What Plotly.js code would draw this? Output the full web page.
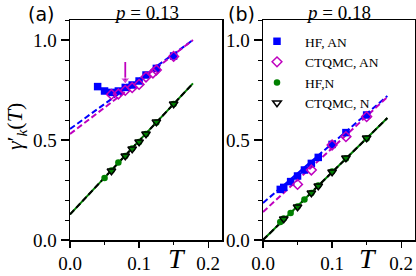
<!DOCTYPE html>
<html><head><meta charset="utf-8">
<script src="https://cdn.plot.ly/plotly-3.0.1.min.js"></script>
<style>html,body{margin:0;padding:0;background:#fff}</style>
</head><body><div id="chart" style="width:416px;height:276px"></div>
<script>
// Panel (a): p = 0.13
const Ta_hfAN = [0.04, 0.05, 0.06, 0.07, 0.08, 0.09, 0.10, 0.11, 0.125, 0.15];
const Ga_hfAN = [0.767, 0.745, 0.738, 0.745, 0.763, 0.775, 0.795, 0.825, 0.858, 0.92];
const Ta_ctAN = [0.06, 0.07, 0.08, 0.09, 0.10, 0.11, 0.12, 0.125, 0.15];
const Ga_ctAN = [0.728, 0.730, 0.748, 0.762, 0.778, 0.815, 0.835, 0.85, 0.918];
const Ta_hfN = [0.05, 0.06, 0.07, 0.08, 0.09, 0.10, 0.11, 0.125, 0.15];
const Ga_hfN = [0.31, 0.347, 0.388, 0.42, 0.458, 0.49, 0.53, 0.587, 0.68];
const Ta_ctN = [0.06, 0.08, 0.09, 0.10, 0.11, 0.125, 0.15];
const Ga_ctN = [0.345, 0.42, 0.455, 0.49, 0.53, 0.59, 0.68];
const Ta_fit = [0, 0.178];
const Ga_fitHfAN = [0.555, 1.0];
const Ga_fitCtAN = [0.53, 1.0];
const Ga_fitN = [0.128, 0.783];
const arrowT = [0.08, 0.08];
const arrowG = [0.89, 0.80];

// Panel (b): p = 0.18
const Tb_hfAN = [0.025, 0.03, 0.04, 0.05, 0.06, 0.07, 0.08, 0.10, 0.12, 0.15];
const Gb_hfAN = [0.253, 0.263, 0.292, 0.32, 0.35, 0.383, 0.413, 0.478, 0.537, 0.625];
const Tb_ctAN = [0.05, 0.07, 0.10, 0.12, 0.15];
const Gb_ctAN = [0.278, 0.35, 0.475, 0.517, 0.617];
const Tb_hfN = [0.025, 0.03, 0.04, 0.05, 0.06, 0.07, 0.08, 0.10, 0.12, 0.15];
const Gb_hfN = [0.09, 0.107, 0.135, 0.167, 0.203, 0.235, 0.272, 0.342, 0.408, 0.508];
const Tb_ctN = [0.03, 0.05, 0.07, 0.08, 0.10, 0.12, 0.15];
const Gb_ctN = [0.105, 0.165, 0.235, 0.27, 0.34, 0.41, 0.51];
const Tb_fit = [0, 0.18];
const Gb_fitHfAN = [0.185, 0.72];
const Gb_fitCtAN = [0.14, 0.715];
const Gb_fitN = [0.0, 0.61];

const seriesNames = ['HF, AN', 'CTQMC, AN', 'HF,N', 'CTQMC, N'];
const panelTitles = ['<i>p</i> = 0.13', '<i>p</i> = 0.18'];
const panelLabels = ['(a)', '(b)'];

const BLUE = '#0000ff', MAG = '#bf00bf', GREEN = '#008000', BLACK = '#000000';
const SERIF = 'Liberation Serif, DejaVu Serif, serif';

function fit(x, y, color, xa, ya, dash) {
  return {x: x, y: y, xaxis: xa, yaxis: ya, mode: 'lines', showlegend: false, hoverinfo: 'skip',
    line: {color: color, width: 2, dash: dash}};
}
function pts(x, y, xa, ya, kind, show) {
  const m = {
    0: {symbol: 'square', size: 7.5, color: BLUE},
    1: {symbol: 'diamond-open', size: 7.5, color: MAG, line: {width: 1.5, color: MAG}},
    2: {symbol: 'circle', size: 6.5, color: GREEN},
    3: {symbol: 'triangle-down-open', size: 7.5, color: BLACK, line: {width: 1.5, color: BLACK}}
  }[kind];
  return {x: x, y: y, xaxis: xa, yaxis: ya, mode: 'markers', name: seriesNames[kind],
    showlegend: show, legendrank: kind, marker: m};
}

const data = [
  fit(Ta_fit, Ga_fitN, GREEN, 'x', 'y', 'solid'),
  fit(Ta_fit, Ga_fitN, BLACK, 'x', 'y', '6px,3px'),
  fit(Ta_fit, Ga_fitHfAN, BLUE, 'x', 'y', '6px,3px'),
  fit(Ta_fit, Ga_fitCtAN, MAG, 'x', 'y', '6px,3px'),
  pts(Ta_hfAN, Ga_hfAN, 'x', 'y', 0, false),
  pts(Ta_ctAN, Ga_ctAN, 'x', 'y', 1, false),
  pts(Ta_hfN, Ga_hfN, 'x', 'y', 2, false),
  pts(Ta_ctN, Ga_ctN, 'x', 'y', 3, false),
  {x: arrowT, y: arrowG, xaxis: 'x', yaxis: 'y', mode: 'lines+markers', showlegend: false,
    hoverinfo: 'skip', line: {color: MAG, width: 1.8},
    marker: {symbol: 'triangle-down', size: [0, 8], color: MAG}},

  fit(Tb_fit, Gb_fitN, GREEN, 'x2', 'y2', 'solid'),
  fit(Tb_fit, Gb_fitN, BLACK, 'x2', 'y2', '6px,3px'),
  fit(Tb_fit, Gb_fitHfAN, BLUE, 'x2', 'y2', '6px,3px'),
  fit(Tb_fit, Gb_fitCtAN, MAG, 'x2', 'y2', '6px,3px'),
  pts(Tb_hfAN, Gb_hfAN, 'x2', 'y2', 0, true),
  pts(Tb_ctAN, Gb_ctAN, 'x2', 'y2', 1, true),
  pts(Tb_hfN, Gb_hfN, 'x2', 'y2', 2, true),
  pts(Tb_ctN, Gb_ctN, 'x2', 'y2', 3, true)
];

const tickFont = {family: SERIF, size: 19, color: '#000'};
function xax(domain, anchor) {
  return {domain: domain, anchor: anchor, range: [0, 0.22], tickvals: [0, 0.1, 0.2],
    ticktext: ['0.0', '0.1', '0.2'], ticks: 'outside', ticklen: 6, tickwidth: 1.3,
    tickcolor: '#000', showline: true, linecolor: '#000', linewidth: 1.5, mirror: true,
    showgrid: false, zeroline: false, tickfont: tickFont,
    minor: {dtick: 0.05, tick0: 0, ticks: 'outside', ticklen: 3, tickwidth: 1, tickcolor: '#000', showgrid: false}};
}
function yax(domain, anchor) {
  return {domain: domain, anchor: anchor, range: [0, 1.1], tickvals: [0, 0.5, 1.0],
    ticktext: ['0.0', '0.5', '1.0'], ticks: 'outside', ticklen: 8, tickwidth: 1.3,
    tickcolor: '#000', showline: true, linecolor: '#000', linewidth: 1.5, mirror: true,
    showgrid: false, zeroline: false, tickfont: tickFont,
    minor: {dtick: 0.1, tick0: 0, ticks: 'outside', ticklen: 4, tickwidth: 1, tickcolor: '#000', showgrid: false}};
}

const yDom = [36 / 276, 256 / 276];
const layout = {
  width: 416, height: 276, margin: {l: 0, r: 0, t: 0, b: 0},
  paper_bgcolor: '#fff', plot_bgcolor: '#fff', showlegend: true,
  xaxis: xax([70 / 416, 222 / 416], 'y'),
  yaxis: yax(yDom, 'x'),
  xaxis2: xax([263 / 416, 415 / 416], 'y2'),
  yaxis2: yax(yDom, 'x2'),
  legend: {x: 249 / 416, y: 1 - 26 / 276, xanchor: 'left', yanchor: 'top',
    bgcolor: 'rgba(0,0,0,0)', borderwidth: 0, traceorder: 'normal',
    font: {family: SERIF, size: 13.5, color: '#000'}, itemwidth: 46},
  annotations: [
    {text: panelLabels[0], xref: 'paper', yref: 'paper', x: 41 / 416, y: 1 - 14 / 276,
      xanchor: 'center', yanchor: 'middle', showarrow: false,
      font: {family: 'DejaVu Sans, sans-serif', size: 19, color: '#000'}},
    {text: panelLabels[1], xref: 'paper', yref: 'paper', x: 241 / 416, y: 1 - 14 / 276,
      xanchor: 'center', yanchor: 'middle', showarrow: false,
      font: {family: 'DejaVu Sans, sans-serif', size: 19, color: '#000'}},
    {text: panelTitles[0], xref: 'paper', yref: 'paper', x: 146 / 416, y: 1,
      xanchor: 'center', yanchor: 'top', showarrow: false,
      font: {family: SERIF, size: 19, color: '#000'}},
    {text: panelTitles[1], xref: 'paper', yref: 'paper', x: 338 / 416, y: 1,
      xanchor: 'center', yanchor: 'top', showarrow: false,
      font: {family: SERIF, size: 19, color: '#000'}},
    {text: '<i>γ</i>′<sub><i>k</i></sub>(<i>T</i>)', xref: 'paper', yref: 'paper',
      x: 16 / 416, y: 1 - 127 / 276, xanchor: 'center', yanchor: 'middle', textangle: -90,
      showarrow: false, font: {family: SERIF, size: 22, color: '#000'}},
    {text: '<i>T</i>', xref: 'paper', yref: 'paper', x: 177 / 416, y: 0,
      xanchor: 'center', yanchor: 'bottom', showarrow: false,
      font: {family: SERIF, size: 28, color: '#000'}},
    {text: '<i>T</i>', xref: 'paper', yref: 'paper', x: 368 / 416, y: 0,
      xanchor: 'center', yanchor: 'bottom', showarrow: false,
      font: {family: SERIF, size: 28, color: '#000'}}
  ]
};

Plotly.newPlot('chart', data, layout, {staticPlot: true, displayModeBar: false});
</script></body></html>
